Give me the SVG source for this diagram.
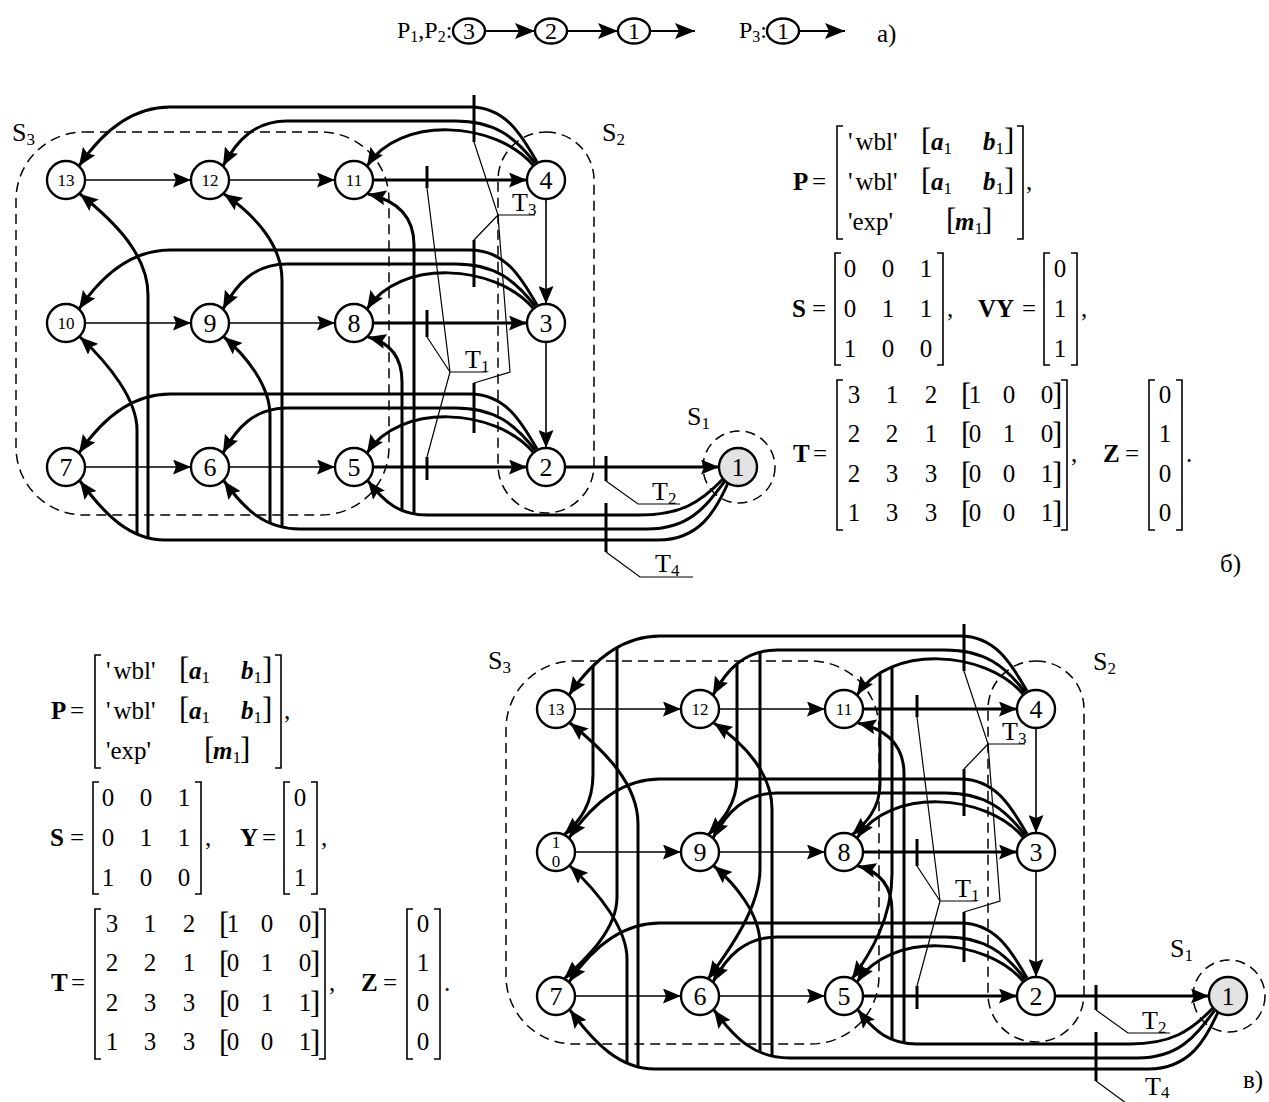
<svg xmlns="http://www.w3.org/2000/svg" width="1269" height="1102" viewBox="0 0 1269 1102">
<style>
.n circle,.n ellipse{fill:#fff;stroke:#000;stroke-width:2.4}
.n .g{fill:#e3e3e3}
.n text{font-family:'Liberation Serif','Times New Roman',serif;font-size:26px;text-anchor:middle}
.n text.s{font-size:17px}
.n text.a{font-size:24px}
.thin{fill:none;stroke:#000;stroke-width:1.6;marker-end:url(#ah)}
.thick{fill:none;stroke:#000;stroke-width:3;marker-end:url(#ah)}
.top{fill:none;stroke:#000;stroke-width:2;marker-end:url(#ahL)}
.tick{fill:none;stroke:#000;stroke-width:3}
.lead{fill:none;stroke:#000;stroke-width:1.2}
.dash{fill:none;stroke:#000;stroke-width:1.5;stroke-dasharray:10 6}
.br{fill:none;stroke:#000;stroke-width:1.6}
text{font-family:'Liberation Serif','Times New Roman',serif;fill:#000}
.lb{font-size:26px}
.m{font-size:25px}
.m .c,.c{text-anchor:middle}
.b{font-weight:bold}
.i{font-style:italic;font-weight:bold}
.bk{font-size:31px}
.sub{font-size:17px;font-style:normal;font-weight:normal}
.tp{font-size:24px}
.tp .sub{font-size:16px}
</style>
<defs>
<marker id="ah" viewBox="0 0 18 15" markerWidth="18" markerHeight="15" refX="18" refY="7.5" orient="auto" markerUnits="userSpaceOnUse"><path d="M0,0L18,7.5L0,15L3,7.5Z" fill="#000"/></marker>
<marker id="ahL" viewBox="0 0 20 16" markerWidth="20" markerHeight="16" refX="20" refY="8" orient="auto" markerUnits="userSpaceOnUse"><path d="M0,0L20,8L0,16L4,8Z" fill="#000"/></marker>
</defs>

<!-- part a -->
<g id="part-a">
<text x="397" y="38" class="tp">P<tspan class="sub" dy="4">1</tspan><tspan dy="-4">,P</tspan><tspan class="sub" dy="4">2</tspan><tspan dy="-4">:</tspan></text>
<g id="a-connectors">
<path class="top" d="M484,31H535"/>
<path class="top" d="M567,31H618"/>
<path class="top" d="M650,31H695"/>
<path class="top" d="M799,31H845"/>
</g>
<g id="a-n3" class="n"><ellipse cx="469" cy="31" rx="16" ry="12.5"/><text class="a" x="469" y="39">3</text></g>
<g id="a-n2" class="n"><ellipse cx="551" cy="31" rx="16" ry="12.5"/><text class="a" x="551" y="39">2</text></g>
<g id="a-n1" class="n"><ellipse cx="634" cy="31" rx="16" ry="12.5"/><text class="a" x="634" y="39">1</text></g>
<text x="739" y="38" class="tp">P<tspan class="sub" dy="4">3</tspan><tspan dy="-4">:</tspan></text>
<g id="a-p3-n1" class="n"><ellipse cx="783" cy="31" rx="16" ry="12.5"/><text class="a" x="783" y="39">1</text></g>
<text x="877" y="42" style="font-size:25px">а)</text>
</g>

<!-- part b -->
<g id="diagram-b">
<g id="b-regions">
<rect class="dash" x="16" y="132" width="373" height="383" rx="68"/>
<rect class="dash" x="498" y="132" width="96" height="381" rx="48"/>
<circle class="dash" cx="739" cy="467" r="36"/>
</g>
<g id="b-connectors">
<path class="thin" d="M85,180H191"/>
<path class="thin" d="M229,180H335"/>
<path class="thin" d="M85,323H191"/>
<path class="thin" d="M229,323H335"/>
<path class="thin" d="M85,467H191"/>
<path class="thin" d="M229,467H335"/>
<path class="thin" d="M546,199V304"/>
<path class="thin" d="M546,342V448"/>
<path class="thick" d="M373,180H527"/>
<path class="thick" d="M373,323H527"/>
<path class="thick" d="M373,467H527"/>
<path class="thick" d="M565,467H719"/>
<path class="thick" d="M537,162C521,134 505,107 470,107H170C130,107 100,135 79,166"/>
<path class="thick" d="M535,163C515,137 495,121 455,121H287C255,121 237,140 223,166"/>
<path class="thick" d="M533,165C495,121 400,115 367,166"/>
<path class="thick" d="M537,305C521,277 505,250 470,250H170C130,250 100,278 79,309"/>
<path class="thick" d="M535,306C515,280 495,264 455,264H287C255,264 237,283 223,309"/>
<path class="thick" d="M533,308C495,264 400,258 367,309"/>
<path class="thick" d="M537,449C521,421 505,394 470,394H170C130,394 100,422 79,453"/>
<path class="thick" d="M535,450C515,424 495,408 455,408H287C255,408 237,427 223,453"/>
<path class="thick" d="M533,452C495,408 400,402 367,453"/>
<path class="thick" d="M723,479C700,503 680,515 640,515H427C400,515 385,503 368,481"/>
<path class="thick" d="M725,481C706,506 690,529 647,529H300C265,529 245,510 224,481"/>
<path class="thick" d="M728,483C716,510 700,540 658,540H165C130,540 105,515 80,481"/>
<path class="thick" d="M137,534V430C137,400 110,365 80,337"/>
<path class="thick" d="M148,538V295C148,255 115,222 80,194"/>
<path class="thick" d="M270,523V415C270,385 245,355 224,337"/>
<path class="thick" d="M282,527V280C282,245 255,215 224,194"/>
<path class="thick" d="M402,511V382C402,360 392,343 368,337"/>
<path class="thick" d="M414,514V245C414,215 395,200 368,194"/>
<path class="tick" d="M427,166V188M427,310V337M427,457V480M474,95V142M474,240V287M474,383V433M606,456V481M606,503V552"/>
<path class="lead" d="M427,188L450,372H487M427,337L450,372M427,457L450,372M474,142L498,215H535M474,240L498,215M498,215L510,372L474,383M606,481L638,504H680M606,552L640,577H693"/>
</g>
<g id="b-n13" class="n"><circle cx="66" cy="180" r="19"/><text class="s" x="66" y="186">13</text></g>
<g id="b-n12" class="n"><circle cx="210" cy="180" r="19"/><text class="s" x="210" y="186">12</text></g>
<g id="b-n11" class="n"><circle cx="354" cy="180" r="19"/><text class="s" x="354" y="186">11</text></g>
<g id="b-n4" class="n"><circle cx="546" cy="180" r="19"/><text x="546" y="189">4</text></g>
<g id="b-n10" class="n"><circle cx="66" cy="323" r="19"/><text class="s" x="66" y="329">10</text></g>
<g id="b-n9" class="n"><circle cx="210" cy="323" r="19"/><text x="210" y="332">9</text></g>
<g id="b-n8" class="n"><circle cx="354" cy="323" r="19"/><text x="354" y="332">8</text></g>
<g id="b-n3" class="n"><circle cx="546" cy="323" r="19"/><text x="546" y="332">3</text></g>
<g id="b-n7" class="n"><circle cx="66" cy="467" r="19"/><text x="66" y="476">7</text></g>
<g id="b-n6" class="n"><circle cx="210" cy="467" r="19"/><text x="210" y="476">6</text></g>
<g id="b-n5" class="n"><circle cx="354" cy="467" r="19"/><text x="354" y="476">5</text></g>
<g id="b-n2" class="n"><circle cx="546" cy="467" r="19"/><text x="546" y="476">2</text></g>
<g id="b-n1" class="n"><circle class="g" cx="738" cy="467" r="19"/><text x="738" y="476">1</text></g>
<g id="b-labels" class="lb">
<text x="12" y="141">S<tspan class="sub" dy="4">3</tspan></text>
<text x="602" y="141">S<tspan class="sub" dy="4">2</tspan></text>
<text x="687" y="425">S<tspan class="sub" dy="4">1</tspan></text>
<text x="465" y="368">T<tspan class="sub" dy="4">1</tspan></text>
<text x="512" y="211">T<tspan class="sub" dy="4">3</tspan></text>
<text x="652" y="500">T<tspan class="sub" dy="4">2</tspan></text>
<text x="655" y="572">T<tspan class="sub" dy="4">4</tspan></text>
</g>
</g>

<!-- matrices b -->
<g id="b-matrices" class="m">
<text x="793" y="190" class="b">P</text><text x="812" y="190">=</text>
<path class="br" d="M843,126H837V239H843M1017,126H1023V239H1017"/>
<text x="848" y="150">'<tspan dx="3">wbl'</tspan></text>
<text x="921" y="150" class="bk">[</text><text x="931" y="150" class="i">a<tspan class="sub" dy="4">1</tspan></text>
<text x="983" y="150" class="i">b<tspan class="sub" dy="4">1</tspan></text><text x="1004" y="150" class="bk">]</text>
<text x="848" y="190">'<tspan dx="3">wbl'</tspan></text>
<text x="921" y="190" class="bk">[</text><text x="931" y="190" class="i">a<tspan class="sub" dy="4">1</tspan></text>
<text x="983" y="190" class="i">b<tspan class="sub" dy="4">1</tspan></text><text x="1004" y="190" class="bk">]</text>
<text x="848" y="230">'exp'</text>
<text x="946" y="230" class="bk">[</text><text x="955" y="230" class="i">m<tspan class="sub" dy="4">1</tspan></text><text x="982" y="230" class="bk">]</text>
<text x="1026" y="190">,</text>

<text x="792" y="317" class="b">S</text><text x="812" y="317">=</text>
<path class="br" d="M841,253H835V365H841M937,253H943V365H937"/>
<g class="c">
<text x="850" y="277">0</text><text x="888" y="277">0</text><text x="926" y="277">1</text>
<text x="850" y="317">0</text><text x="888" y="317">1</text><text x="926" y="317">1</text>
<text x="850" y="357">1</text><text x="888" y="357">0</text><text x="926" y="357">0</text>
</g>
<text x="947" y="317">,</text>
<text x="978" y="317" class="b">VY</text><text x="1022" y="317">=</text>
<path class="br" d="M1050,253H1044V365H1050M1071,253H1077V365H1071"/>
<g class="c"><text x="1060" y="277">0</text><text x="1060" y="317">1</text><text x="1060" y="357">1</text></g>
<text x="1081" y="317">,</text>

<text x="793" y="462" class="b">T</text><text x="813" y="462">=</text>
<path class="br" d="M843,380H837V530H843M1061,380H1067V530H1061"/>
<g class="c">
<text x="854" y="403">3</text><text x="892" y="403">1</text><text x="931" y="403">2</text>
<text x="854" y="442">2</text><text x="892" y="442">2</text><text x="931" y="442">1</text>
<text x="854" y="482">2</text><text x="892" y="482">3</text><text x="931" y="482">3</text>
<text x="854" y="521">1</text><text x="892" y="521">3</text><text x="931" y="521">3</text>
<text x="975" y="403">1</text><text x="1009" y="403">0</text><text x="1047" y="403">0</text>
<text x="975" y="442">0</text><text x="1009" y="442">1</text><text x="1047" y="442">0</text>
<text x="975" y="482">0</text><text x="1009" y="482">0</text><text x="1047" y="482">1</text>
<text x="975" y="521">0</text><text x="1009" y="521">0</text><text x="1047" y="521">1</text>
</g>
<text x="961" y="405" class="bk">[</text><text x="1052" y="405" class="bk">]</text>
<text x="961" y="444" class="bk">[</text><text x="1052" y="444" class="bk">]</text>
<text x="961" y="484" class="bk">[</text><text x="1052" y="484" class="bk">]</text>
<text x="961" y="523" class="bk">[</text><text x="1052" y="523" class="bk">]</text>
<text x="1071" y="462">,</text>
<text x="1103" y="462" class="b">Z</text><text x="1125" y="462">=</text>
<path class="br" d="M1155,380H1149V530H1155M1176,380H1182V530H1176"/>
<g class="c"><text x="1165" y="403">0</text><text x="1165" y="442">1</text><text x="1165" y="482">0</text><text x="1165" y="521">0</text></g>
<text x="1186" y="462">.</text>
<text x="1220" y="572">б)</text>
</g>

<!-- part v -->
<g id="diagram-v" transform="translate(490,529)">
<g id="v-regions">
<rect class="dash" x="16" y="132" width="373" height="383" rx="68"/>
<rect class="dash" x="498" y="132" width="96" height="381" rx="48"/>
<circle class="dash" cx="739" cy="467" r="36"/>
</g>
<g id="v-connectors">
<path class="thin" d="M85,180H191"/>
<path class="thin" d="M229,180H335"/>
<path class="thin" d="M85,323H191"/>
<path class="thin" d="M229,323H335"/>
<path class="thin" d="M85,467H191"/>
<path class="thin" d="M229,467H335"/>
<path class="thin" d="M546,199V304"/>
<path class="thin" d="M546,342V448"/>
<path class="thick" d="M373,180H527"/>
<path class="thick" d="M373,323H527"/>
<path class="thick" d="M373,467H527"/>
<path class="thick" d="M565,467H719"/>
<path class="thick" d="M537,162C521,134 505,107 470,107H170C130,107 100,135 79,166"/>
<path class="thick" d="M535,163C515,137 495,121 455,121H287C255,121 237,140 223,166"/>
<path class="thick" d="M533,165C495,121 400,115 367,166"/>
<path class="thick" d="M537,305C521,277 505,250 470,250H170C130,250 100,278 79,309"/>
<path class="thick" d="M535,306C515,280 495,264 455,264H287C255,264 237,283 223,309"/>
<path class="thick" d="M533,308C495,264 400,258 367,309"/>
<path class="thick" d="M537,449C521,421 505,394 470,394H170C130,394 100,422 79,453"/>
<path class="thick" d="M535,450C515,424 495,408 455,408H287C255,408 237,427 223,453"/>
<path class="thick" d="M533,452C495,408 400,402 367,453"/>
<path class="thick" d="M723,479C700,503 680,515 640,515H427C400,515 385,503 368,481"/>
<path class="thick" d="M725,481C706,506 690,529 647,529H300C265,529 245,510 224,481"/>
<path class="thick" d="M728,483C716,510 700,540 658,540H165C130,540 105,515 80,481"/>
<path class="thick" d="M137,534V430C137,400 110,365 80,337"/>
<path class="thick" d="M148,538V295C148,255 115,222 80,194"/>
<path class="thick" d="M270,523V415C270,385 245,355 224,337"/>
<path class="thick" d="M282,527V280C282,245 255,215 224,194"/>
<path class="thick" d="M402,511V382C402,360 392,343 368,337"/>
<path class="thick" d="M414,514V245C414,215 395,200 368,194"/>
<path class="thick" d="M103,137V245C103,275 90,292 74,306"/>
<path class="thick" d="M127,119V368C127,400 98,428 74,450"/>
<path class="thick" d="M247,135V248C247,275 232,292 218,306"/>
<path class="thick" d="M270,123V340C270,378 240,420 218,450"/>
<path class="thick" d="M390,144V255C390,280 375,295 362,306"/>
<path class="thick" d="M402,138V345C402,390 380,425 362,450"/>
<path class="tick" d="M427,166V188M427,310V337M427,457V480M474,95V142M474,240V287M474,383V433M606,456V481M606,503V552"/>
<path class="lead" d="M427,188L450,372H487M427,337L450,372M427,457L450,372M474,142L498,215H535M474,240L498,215M498,215L510,372L474,383M606,481L638,504H680M606,552L640,577H693"/>
</g>
<g id="v-n13" class="n"><circle cx="66" cy="180" r="19"/><text class="s" x="66" y="186">13</text></g>
<g id="v-n12" class="n"><circle cx="210" cy="180" r="19"/><text class="s" x="210" y="186">12</text></g>
<g id="v-n11" class="n"><circle cx="354" cy="180" r="19"/><text class="s" x="354" y="186">11</text></g>
<g id="v-n4" class="n"><circle cx="546" cy="180" r="19"/><text x="546" y="189">4</text></g>
<g id="v-n10" class="n"><circle cx="66" cy="323" r="19"/><text class="s" x="66" y="319">1</text><text class="s" x="66" y="338">0</text></g>
<g id="v-n9" class="n"><circle cx="210" cy="323" r="19"/><text x="210" y="332">9</text></g>
<g id="v-n8" class="n"><circle cx="354" cy="323" r="19"/><text x="354" y="332">8</text></g>
<g id="v-n3" class="n"><circle cx="546" cy="323" r="19"/><text x="546" y="332">3</text></g>
<g id="v-n7" class="n"><circle cx="66" cy="467" r="19"/><text x="66" y="476">7</text></g>
<g id="v-n6" class="n"><circle cx="210" cy="467" r="19"/><text x="210" y="476">6</text></g>
<g id="v-n5" class="n"><circle cx="354" cy="467" r="19"/><text x="354" y="476">5</text></g>
<g id="v-n2" class="n"><circle cx="546" cy="467" r="19"/><text x="546" y="476">2</text></g>
<g id="v-n1" class="n"><circle class="g" cx="738" cy="467" r="19"/><text x="738" y="476">1</text></g>
<g id="v-labels" class="lb">
<text x="-2" y="140">S<tspan class="sub" dy="4">3</tspan></text>
<text x="603" y="141">S<tspan class="sub" dy="4">2</tspan></text>
<text x="680" y="428">S<tspan class="sub" dy="4">1</tspan></text>
<text x="465" y="368">T<tspan class="sub" dy="4">1</tspan></text>
<text x="512" y="211">T<tspan class="sub" dy="4">3</tspan></text>
<text x="652" y="500">T<tspan class="sub" dy="4">2</tspan></text>
<text x="655" y="566">T<tspan class="sub" dy="3">4</tspan></text>
</g>
</g>

<!-- matrices v -->
<g id="v-matrices" class="m" transform="translate(-742,529)">
<text x="793" y="190" class="b">P</text><text x="812" y="190">=</text>
<path class="br" d="M843,126H837V239H843M1017,126H1023V239H1017"/>
<text x="848" y="150">'<tspan dx="3">wbl'</tspan></text>
<text x="921" y="150" class="bk">[</text><text x="931" y="150" class="i">a<tspan class="sub" dy="4">1</tspan></text>
<text x="983" y="150" class="i">b<tspan class="sub" dy="4">1</tspan></text><text x="1004" y="150" class="bk">]</text>
<text x="848" y="190">'<tspan dx="3">wbl'</tspan></text>
<text x="921" y="190" class="bk">[</text><text x="931" y="190" class="i">a<tspan class="sub" dy="4">1</tspan></text>
<text x="983" y="190" class="i">b<tspan class="sub" dy="4">1</tspan></text><text x="1004" y="190" class="bk">]</text>
<text x="848" y="230">'exp'</text>
<text x="946" y="230" class="bk">[</text><text x="955" y="230" class="i">m<tspan class="sub" dy="4">1</tspan></text><text x="982" y="230" class="bk">]</text>
<text x="1026" y="190">,</text>

<text x="792" y="317" class="b">S</text><text x="812" y="317">=</text>
<path class="br" d="M841,253H835V365H841M937,253H943V365H937"/>
<g class="c">
<text x="850" y="277">0</text><text x="888" y="277">0</text><text x="926" y="277">1</text>
<text x="850" y="317">0</text><text x="888" y="317">1</text><text x="926" y="317">1</text>
<text x="850" y="357">1</text><text x="888" y="357">0</text><text x="926" y="357">0</text>
</g>
<text x="947" y="317">,</text>
<text x="982" y="317" class="b">Y</text><text x="1004" y="317">=</text>
<path class="br" d="M1032,253H1026V365H1032M1053,253H1059V365H1053"/>
<g class="c"><text x="1042" y="277">0</text><text x="1042" y="317">1</text><text x="1042" y="357">1</text></g>
<text x="1063" y="317">,</text>

<text x="793" y="462" class="b">T</text><text x="813" y="462">=</text>
<path class="br" d="M843,380H837V530H843M1061,380H1067V530H1061"/>
<g class="c">
<text x="854" y="403">3</text><text x="892" y="403">1</text><text x="931" y="403">2</text>
<text x="854" y="442">2</text><text x="892" y="442">2</text><text x="931" y="442">1</text>
<text x="854" y="482">2</text><text x="892" y="482">3</text><text x="931" y="482">3</text>
<text x="854" y="521">1</text><text x="892" y="521">3</text><text x="931" y="521">3</text>
<text x="975" y="403">1</text><text x="1009" y="403">0</text><text x="1047" y="403">0</text>
<text x="975" y="442">0</text><text x="1009" y="442">1</text><text x="1047" y="442">0</text>
<text x="975" y="482">0</text><text x="1009" y="482">1</text><text x="1047" y="482">1</text>
<text x="975" y="521">0</text><text x="1009" y="521">0</text><text x="1047" y="521">1</text>
</g>
<text x="961" y="405" class="bk">[</text><text x="1052" y="405" class="bk">]</text>
<text x="961" y="444" class="bk">[</text><text x="1052" y="444" class="bk">]</text>
<text x="961" y="484" class="bk">[</text><text x="1052" y="484" class="bk">]</text>
<text x="961" y="523" class="bk">[</text><text x="1052" y="523" class="bk">]</text>
<text x="1071" y="462">,</text>
<text x="1103" y="462" class="b">Z</text><text x="1125" y="462">=</text>
<path class="br" d="M1155,380H1149V530H1155M1176,380H1182V530H1176"/>
<g class="c"><text x="1165" y="403">0</text><text x="1165" y="442">1</text><text x="1165" y="482">0</text><text x="1165" y="521">0</text></g>
<text x="1186" y="462">.</text>
</g>
<text x="1243" y="1088" style="font-size:25px">в)</text>
</svg>
